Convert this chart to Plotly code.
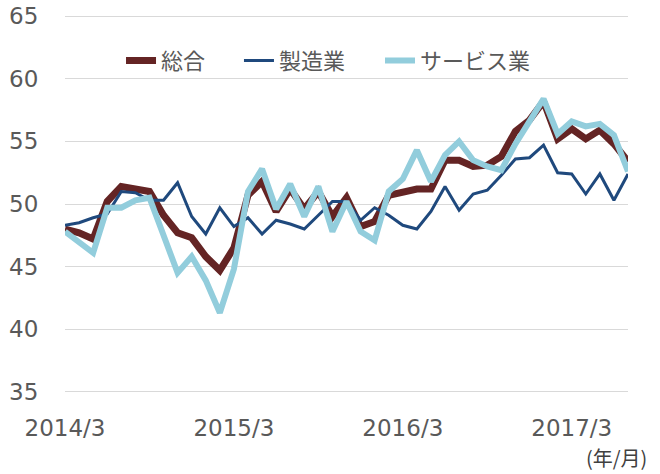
import plotly.graph_objects as go

months = ["2014/3","2014/4","2014/5","2014/6","2014/7","2014/8","2014/9","2014/10","2014/11","2014/12",
          "2015/1","2015/2","2015/3","2015/4","2015/5","2015/6","2015/7","2015/8","2015/9","2015/10",
          "2015/11","2015/12","2016/1","2016/2","2016/3","2016/4","2016/5","2016/6","2016/7","2016/8",
          "2016/9","2016/10","2016/11","2016/12","2017/1","2017/2","2017/3","2017/4","2017/5","2017/6","2017/7"]

composite = [48.0, 47.7, 47.2, 50.2, 51.4, 51.2, 51.0, 49.1, 47.7, 47.3, 45.8, 44.7, 46.5, 50.7, 51.8,
             49.4, 51.2, 49.6, 51.0, 49.0, 50.5, 48.2, 48.6, 50.7, 50.9, 51.2, 51.2, 53.5, 53.5, 53.0,
             53.1, 53.8, 55.8, 56.7, 58.2, 55.2, 56.0, 55.2, 55.9, 54.8, 53.4]

manufacturing = [48.3, 48.5, 48.9, 49.2, 51.0, 50.9, 50.3, 50.3, 51.7, 49.0, 47.6, 49.7, 48.2, 48.9, 47.6,
                 48.7, 48.4, 48.0, 49.1, 50.2, 50.2, 48.7, 49.7, 49.1, 48.3, 48.0, 49.4, 51.4, 49.5, 50.8,
                 51.1, 52.3, 53.6, 53.7, 54.7, 52.5, 52.4, 50.8, 52.4, 50.3, 52.4]

services = [47.8, 46.9, 46.1, 49.7, 49.7, 50.3, 50.5, 47.5, 44.5, 45.8, 43.9, 41.3, 44.8, 51.0, 52.8,
            49.6, 51.6, 49.0, 51.4, 47.8, 50.2, 47.8, 47.1, 51.0, 52.0, 54.3, 51.8, 53.9, 55.0, 53.5,
            53.0, 52.7, 54.8, 56.6, 58.4, 55.6, 56.6, 56.2, 56.4, 55.5, 52.6]

x_ticks = ["2014/3", "2015/3", "2016/3", "2017/3"]
y_ticks = [35, 40, 45, 50, 55, 60, 65]

NUM_FONT = "DejaVu Sans"
JP_FONT = "Noto Sans CJK JP"
GREY = "#595959"

fig = go.Figure()
fig.add_trace(go.Scatter(x=months, y=composite, mode="lines", name="総合", legend="legend",
                         line=dict(color="#642424", width=7)))
fig.add_trace(go.Scatter(x=months, y=manufacturing, mode="lines", name="製造業", legend="legend2",
                         line=dict(color="#1F497D", width=3)))
fig.add_trace(go.Scatter(x=months, y=services, mode="lines", name="サービス業", legend="legend3",
                         line=dict(color="#92CDDC", width=6)))

leg_common = dict(orientation="h", y=0.879, yanchor="middle", xanchor="left",
                  font=dict(family=JP_FONT, size=22, color=GREY), bgcolor="rgba(255,255,255,0)")

fig.update_layout(
    width=660, height=474,
    margin=dict(l=65, r=32, t=14.5, b=81),
    paper_bgcolor="white", plot_bgcolor="white",
    font=dict(family=JP_FONT, size=22, color=GREY),
    showlegend=True,
    legend=dict(x=0.0995, **leg_common),
    legend2=dict(x=0.309, **leg_common),
    legend3=dict(x=0.5595, **leg_common),
    xaxis=dict(type="category", categoryorder="array", categoryarray=months,
               range=[0, len(months) - 1], tickmode="array", tickvals=x_ticks, ticktext=x_ticks,
               showgrid=False, zeroline=False, showline=False, automargin=False,
               ticks="outside", ticklen=14, tickcolor="rgba(0,0,0,0)",
               tickfont=dict(family=NUM_FONT, size=23, color=GREY)),
    yaxis=dict(range=[34.9, 65.1], tickmode="array", tickvals=y_ticks,
               showgrid=True, gridcolor="#D9D9D9", gridwidth=1.3, zeroline=False, showline=False,
               automargin=False, ticklabeloverflow="allow",
               ticks="outside", ticklen=21, tickcolor="rgba(0,0,0,0)",
               tickfont=dict(family=NUM_FONT, size=23, color=GREY)),
    annotations=[dict(text="(年/月)", xref="paper", yref="paper", x=1.037, y=-0.17,
                      xanchor="right", yanchor="middle", showarrow=False,
                      font=dict(family=JP_FONT, size=20, color="#404040"))],
)

fig.write_html("out.html", config={"displayModeBar": False},
               post_script="document.body.style.margin='0';")
